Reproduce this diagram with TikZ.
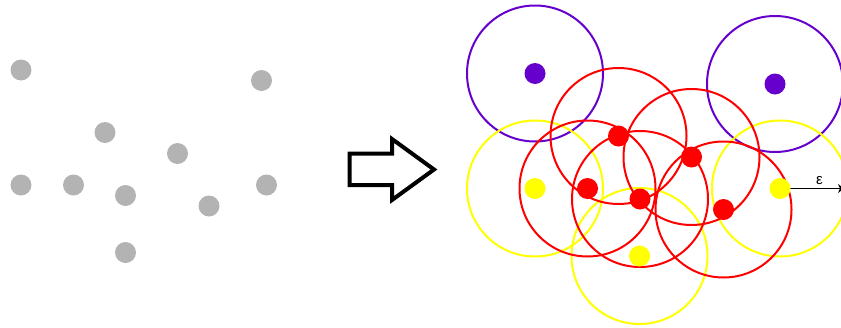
\documentclass[tikz,border=0pt]{standalone}
\usepackage{fontspec}
\newfontfamily\epsfont{Liberation Sans}
\usetikzlibrary{arrows.meta}
\definecolor{dotgray}{HTML}{B3B3B3}
\definecolor{dbpurple}{HTML}{6600CC}
\definecolor{dbred}{HTML}{FF0000}
\definecolor{dbyellow}{HTML}{FFFF00}
\begin{document}
\begin{tikzpicture}[x=1pt,y=-1pt,
  pt/.style={circle,inner sep=0pt,minimum size=21pt,fill=#1},
  ring/.style={circle,inner sep=0pt,minimum size=136pt,draw=#1,line width=2pt},
  bigarrow/.style={draw=black,line width=4pt,line join=miter,fill=white}]
\useasboundingbox (0,0) rectangle (841,327);
\clip (0,0) rectangle (841,327);
% left: raw points
\node[pt=dotgray] (g1) at (21,70) {};
\node[pt=dotgray] (g2) at (261.5,80.5) {};
\node[pt=dotgray] (g3) at (105,132.5) {};
\node[pt=dotgray] (g4) at (177.5,153.5) {};
\node[pt=dotgray] (g5) at (21,185) {};
\node[pt=dotgray] (g6) at (73.5,185) {};
\node[pt=dotgray] (g7) at (125.5,195.5) {};
\node[pt=dotgray] (g8) at (209,206) {};
\node[pt=dotgray] (g9) at (266.5,185) {};
\node[pt=dotgray] (g10) at (125.5,252.5) {};
% big arrow
\draw[bigarrow] (349.5,153.5) -- (392,153.5) -- (392,139) -- (434,169.5) -- (392,200) -- (392,185) -- (349.5,185) -- cycle;
% right: circles
\node[ring=dbpurple] (cp1) at (535,73.5) {};
\node[ring=dbpurple] (cp2) at (775,84) {};
\node[ring=dbyellow] (cy1) at (535,188.5) {};
\node[ring=dbyellow] (cy2) at (639.5,256) {};
\node[ring=dbyellow] (cy3) at (780,188.5) {};
\node[ring=dbred] (cr1) at (618.5,136) {};
\node[ring=dbred] (cr2) at (587.5,188.5) {};
\node[ring=dbred] (cr3) at (640,199) {};
\node[ring=dbred] (cr4) at (691.5,157) {};
\node[ring=dbred] (cr5) at (723.5,209.5) {};
% epsilon radius
\coordinate (epsend) at (844,188.5);
\draw[line width=1pt,-{Stealth[length=6pt,width=9pt]}] (cy3.center) -- (epsend);
\node[font=\epsfont\fontsize{15}{17}\selectfont,inner sep=0pt] (eps) at (819.5,180.5) {ε};
% right: points
\node[pt=dbpurple] (p1) at (535,73.5) {};
\node[pt=dbpurple] (p2) at (775,84) {};
\node[pt=dbyellow] (y1) at (535,188.5) {};
\node[pt=dbyellow] (y2) at (639.5,256) {};
\node[pt=dbyellow] (y3) at (780,188.5) {};
\node[pt=dbred] (r1) at (618.5,136) {};
\node[pt=dbred] (r2) at (587.5,188.5) {};
\node[pt=dbred] (r3) at (640,199) {};
\node[pt=dbred] (r4) at (691.5,157) {};
\node[pt=dbred] (r5) at (723.5,209.5) {};
\end{tikzpicture}
\end{document}
